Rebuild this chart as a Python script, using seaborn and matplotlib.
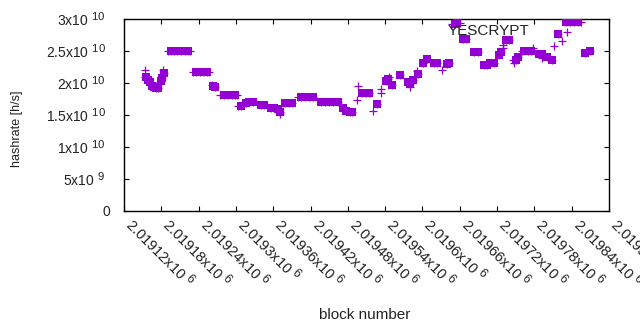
import numpy as np
import pandas as pd
import matplotlib
matplotlib.use("Agg")
import matplotlib.pyplot as plt
import matplotlib._mathtext as _mt
import seaborn as sns

_mt.SHRINK_FACTOR = 0.82  # gnuplot-like larger exponents

# ---- data (hashrate in units of 1e9 h/s) ----
square_blocks = [2019155, 2019159, 2019162, 2019165, 2019168, 2019171, 2019175,
                 2019179, 2019181, 2019185,
                 2019196, 2019200, 2019205, 2019212, 2019218, 2019223,
                 2019236, 2019242, 2019249, 2019253,
                 2019263, 2019266,
                 2019281, 2019287, 2019294, 2019299,
                 2019308, 2019316, 2019321, 2019327,
                 2019340, 2019345, 2019356, 2019361, 2019368, 2019371,
                 2019379, 2019385, 2019390,
                 2019405, 2019411, 2019418, 2019424,
                 2019437, 2019443, 2019450, 2019456, 2019464,
                 2019472, 2019477, 2019483, 2019487,
                 2019503, 2019509, 2019514,
                 2019527, 2019541, 2019544, 2019551, 2019564,
                 2019576, 2019580, 2019585, 2019593, 2019601, 2019608,
                 2019619, 2019623, 2019639, 2019643,
                 2019652, 2019656, 2019665, 2019670, 2019683, 2019689,
                 2019699, 2019703, 2019709, 2019715, 2019723, 2019726,
                 2019734, 2019739, 2019750, 2019754,
                 2019763, 2019770, 2019775, 2019787, 2019792,
                 2019800, 2019808, 2019818,
                 2019831, 2019837, 2019844, 2019850,
                 2019861, 2019869]
square_rates = [21.0, 20.5, 20.1, 19.5, 19.3, 19.2, 19.2,
                20.3, 20.8, 21.5,
                25.0, 25.0, 25.0, 25.0, 25.0, 25.0,
                21.7, 21.7, 21.7, 21.7,
                19.6, 19.3,
                18.2, 18.2, 18.2, 18.2,
                16.4, 16.8, 17.0, 17.0,
                16.6, 16.6, 16.1, 16.1, 15.9, 15.5,
                16.8, 16.8, 16.8,
                17.8, 17.8, 17.8, 17.8,
                17.1, 17.1, 17.1, 17.1, 17.1,
                16.1, 15.6, 15.4, 15.4,
                18.5, 18.5, 18.5,
                16.7, 20.3, 20.7, 19.7, 21.2,
                20.1, 19.9, 20.5, 21.4, 23.1, 23.75,
                23.2, 23.2, 22.9, 23.2,
                29.2, 29.3, 26.9, 26.9, 24.9, 24.9,
                22.8, 22.8, 23.1, 23.1, 24.3, 24.8,
                26.7, 26.7, 23.6, 24.0,
                25.0, 25.0, 25.0, 24.6, 24.6,
                24.1, 23.6, 27.6,
                29.5, 29.5, 29.5, 29.5,
                24.7, 25.0]

plus_only_blocks = [2019154, 2019154, 2019162, 2019178, 2019179, 2019183,
                    2019191, 2019226, 2019231, 2019257, 2019274, 2019302,
                    2019261, 2019303, 2019371, 2019400, 2019494, 2019497, 2019520,
                    2019533, 2019533, 2019546, 2019580, 2019591, 2019631,
                    2019648, 2019661, 2019730, 2019730, 2019746, 2019747,
                    2019760, 2019778, 2019792,
                    2019812, 2019825, 2019832, 2019855]
plus_only_rates = [22.0, 21.0, 19.7, 20.2, 20.7, 22.0,
                   25.0, 25.0, 21.7, 21.7, 18.2, 18.2,
                   19.7, 16.4, 15.2, 17.8, 17.3, 19.5, 15.7,
                   19.1, 18.5, 21.0, 19.4, 21.9, 22.0,
                   29.2, 29.3, 26.0, 25.4, 23.6, 23.2,
                   25.0, 25.4, 23.9,
                   25.8, 26.6, 28.0, 29.5]

x_ticks = [2019120 + 60 * i for i in range(14)]
x_tick_labels = ["2.01912", "2.01918", "2.01924", "2.0193", "2.01936", "2.01942",
                 "2.01948", "2.01954", "2.0196", "2.01966", "2.01972", "2.01978",
                 "2.01984", "2.0199"]
y_ticks = [0, 5e9, 1e10, 1.5e10, 2e10, 2.5e10, 3e10]
y_tick_labels = ["0", "5x10 $^{9}$  ", "1x10 $^{10}$  ", "1.5x10 $^{10}$  ",
                 "2x10 $^{10}$  ", "2.5x10 $^{10}$  ", "3x10 $^{10}$  "]

color = "#9400D3"

sq = pd.DataFrame({"block": square_blocks,
                   "hashrate": np.array(square_rates) * 1e9})
pl = pd.DataFrame({"block": list(square_blocks) + plus_only_blocks,
                   "hashrate": np.array(list(square_rates) + plus_only_rates) * 1e9})

sns.set_theme(style="white")
plt.rcParams["font.family"] = ["Liberation Sans", "DejaVu Sans"]
plt.rcParams["mathtext.fontset"] = "custom"
plt.rcParams["mathtext.rm"] = "Liberation Sans"
plt.rcParams["mathtext.it"] = "Liberation Sans"
plt.rcParams["mathtext.bf"] = "Liberation Sans"
plt.rcParams["mathtext.default"] = "regular"

fig = plt.figure(figsize=(6.4, 3.3), dpi=100)
ax = fig.add_axes([124 / 640, 1 - 211 / 330, 485 / 640, 192 / 330])

sns.scatterplot(data=pl, x="block", y="hashrate", ax=ax, marker="+",
                s=40, color=color, linewidth=0.9, zorder=3)
sns.scatterplot(data=sq, x="block", y="hashrate", ax=ax, marker="s",
                s=30, color=color, edgecolor=color, linewidth=0, zorder=3)

ax.set_xlim(2019120, 2019900)
ax.set_ylim(0, 3e10)
ax.set_xticks(x_ticks)
ax.set_xticklabels([t + "x10 $^{6}$" for t in x_tick_labels],
                   rotation=-45, ha="left", va="baseline", rotation_mode="anchor",
                   fontsize=10.5, color="#222222")
ax.set_yticks(y_ticks)
ax.set_yticklabels(y_tick_labels, fontsize=10, color="#222222")

ax.tick_params(axis="both", direction="in", length=3.6, width=0.8, top=True,
               right=True, bottom=True, left=True, colors="black",
               labelcolor="#222222")
ax.tick_params(axis="x", pad=10.8)
ax.tick_params(axis="y", pad=10)
for s in ax.spines.values():
    s.set_visible(True)
    s.set_color("black")
    s.set_linewidth(1.0)

ax.set_xlabel("block number", fontsize=11, color="#222222")
ax.set_ylabel("hashrate [h/s]", fontsize=9, color="#222222")
ax.xaxis.set_label_coords((365 - 124) / 485, -(315 - 211) / 192)
ax.xaxis.label.set_va("center")
ax.yaxis.set_label_coords(-(124 - 17.5) / 485, (211 - 129) / 192)
ax.yaxis.label.set_va("center")

ax.text((489 - 124) / 485, (211 - 31) / 192, "YESCRYPT", transform=ax.transAxes,
        ha="center", va="center", fontsize=11, color="#222222", zorder=10)

fig.savefig("out.png", dpi=100)
